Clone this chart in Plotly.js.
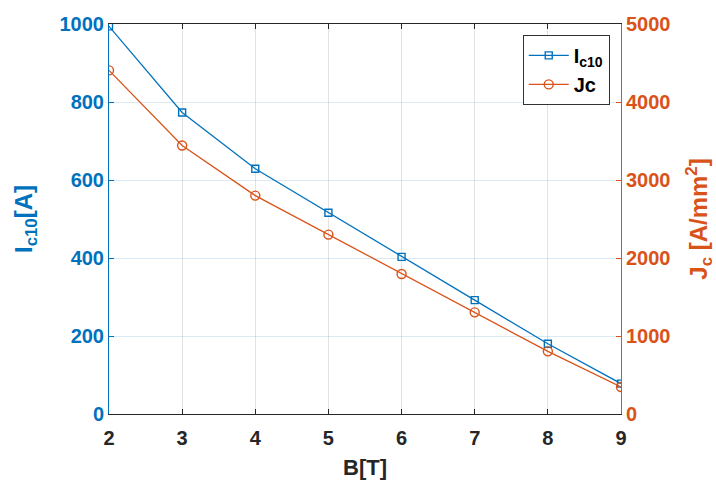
<!DOCTYPE html>
<html><head><meta charset="utf-8">
<script src="https://cdn.plot.ly/plotly-3.0.1.min.js"></script>
<style>body{margin:0;background:#fff}#c{width:716px;height:480px}</style>
</head><body><div id="c"></div>
<script>
const B = [2, 3, 4, 5, 6, 7, 8, 9];
const Ic10 = [994, 773, 629, 516, 403, 292, 180, 78];
const Jc = [4405, 3443, 2800, 2300, 1795, 1303, 803, 346];
const xTicks = [2, 3, 4, 5, 6, 7, 8, 9];
const yLeftTicks = [0, 200, 400, 600, 800, 1000];
const yRightTicks = [0, 1000, 2000, 3000, 4000, 5000];

const blue = '#0072BD', orange = '#D95319';
const F = 'Liberation Sans, Arial, Helvetica, sans-serif';

const traces = [
  {x: B, y: Ic10, name: 'I<sub>c10</sub>', type: 'scatter', mode: 'lines+markers',
   line: {color: blue, width: 1.3},
   marker: {symbol: 'square-open', size: 7, color: blue, line: {width: 1.4}}, yaxis: 'y'},
  {x: B, y: Jc, name: 'Jc', type: 'scatter', mode: 'lines+markers',
   line: {color: orange, width: 1.3},
   marker: {symbol: 'circle-open', size: 9, color: orange, line: {width: 1.4}}, yaxis: 'y2'}
];

const layout = {
  width: 716, height: 480,
  margin: {l: 109, r: 95, t: 24, b: 66},
  paper_bgcolor: '#fff', plot_bgcolor: '#fff',
  font: {family: F, size: 20, color: '#262626', weight: 'bold'},
  showlegend: true,
  legend: {x: 0.978, y: 0.972, xanchor: 'right', yanchor: 'top',
    bgcolor: '#fff', bordercolor: '#333', borderwidth: 1, itemwidth: 40,
    font: {family: F, size: 20, color: '#000', weight: 'bold'}, tracegroupgap: 0},
  xaxis: {range: [2, 9], tickvals: xTicks, ticktext: xTicks.map(String),
    ticks: 'inside', ticklen: 5, tickcolor: '#262626', showline: true, linecolor: '#262626',
    linewidth: 1, mirror: 'ticks', showgrid: true, gridcolor: '#e3e3e3', zeroline: false,
    ticklabelstandoff: 6,
    tickfont: {family: F, size: 20, color: '#262626', weight: 'bold'},
    title: {text: 'B[T]', font: {family: F, size: 22, color: '#262626', weight: 'bold'}, standoff: 11}},
  yaxis: {range: [0, 1000], tickvals: yLeftTicks, ticktext: yLeftTicks.map(String),
    ticks: 'inside', ticklen: 5, tickcolor: blue, showline: true, linecolor: blue, linewidth: 1,
    showgrid: true, gridcolor: 'rgba(0,114,189,0.15)', zeroline: false,
    tickfont: {family: F, size: 20, color: blue, weight: 'bold'},
    title: {text: 'I<sub>c10</sub>[A]', font: {family: F, size: 24, color: blue, weight: 'bold'}, standoff: 20}},
  yaxis2: {range: [0, 5000], tickvals: yRightTicks, ticktext: yRightTicks.map(String),
    overlaying: 'y', side: 'right',
    ticks: 'inside', ticklen: 5, tickcolor: orange, showline: true, linecolor: orange, linewidth: 1,
    showgrid: false, zeroline: false,
    tickfont: {family: F, size: 20, color: orange, weight: 'bold'},
    title: {text: 'J<sub>c</sub> [A/mm<sup>2</sup>]', font: {family: F, size: 24, color: orange, weight: 'bold'}, standoff: 24}}
};

Plotly.newPlot('c', traces, layout, {displayModeBar: false, staticPlot: true});
</script></body></html>
